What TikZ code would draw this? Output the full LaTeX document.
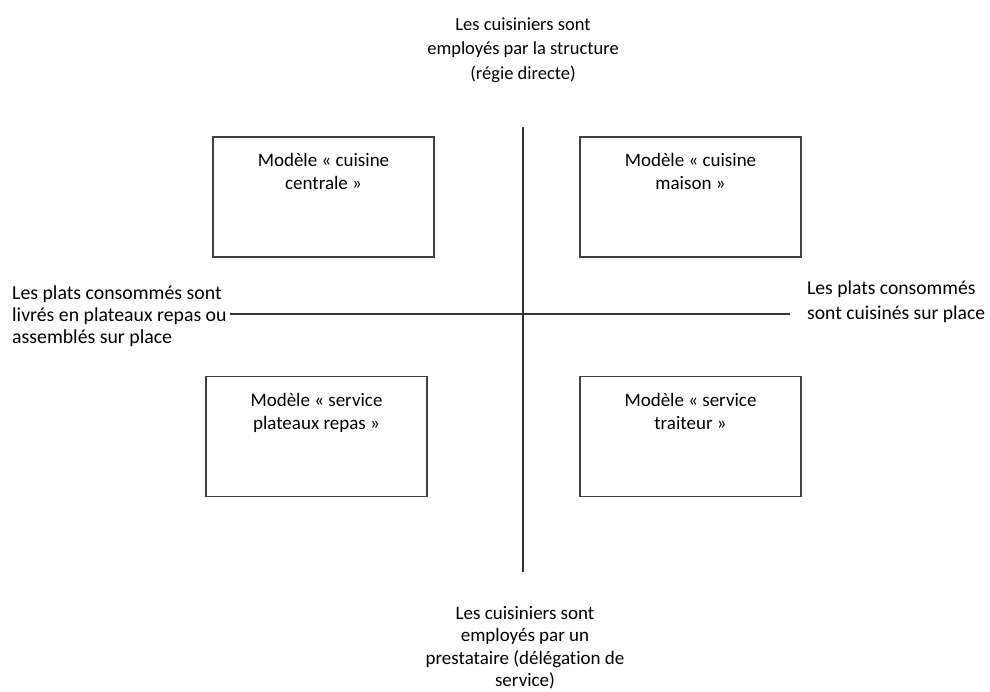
\documentclass[tikz,border=0pt]{standalone}
\usepackage{fontspec}
\setmainfont[Ligatures=NoCommon]{Carlito}
\begin{document}
\begin{tikzpicture}[x=1pt,y=-1pt,
  axis/.style={draw=black!80,line width=1.2pt},
  modelbox/.style={draw=black!75,line width=1.2pt,rectangle,minimum width=221pt,minimum height=120pt,inner sep=0pt},
  lbl/.style={font=\fontsize{19}{23}\selectfont,inner sep=0pt,text=black}
]
\useasboundingbox (0,0) rectangle (990,691);

% axis labels
\node[lbl,align=center,font=\fontsize{18.5}{24.5}\selectfont] (top) at (523,50) {Les cuisiniers sont\\employés par la structure\\(régie directe)};
\node[lbl,align=center,font=\fontsize{19}{22.5}\selectfont] (bottom) at (525,648) {Les cuisiniers sont\\employés par un\\prestataire (délégation de\\service)};
\node[lbl,align=left,anchor=west,font=\fontsize{19.8}{22}\selectfont] (left) at (12,316) {Les plats consommés sont\\livrés en plateaux repas ou\\assemblés sur place};
\node[lbl,align=left,anchor=west,font=\fontsize{19.6}{25}\selectfont] (right) at (807,302) {Les plats consommés\\sont cuisinés sur place};

% axes
\coordinate (vt) at (523,127);
\coordinate (vb) at (523,572);
\coordinate (hl) at (230,314);
\coordinate (hr) at (790,314);
\draw[axis] (vt) -- (vb);
\draw[axis] (hl) -- (hr);

% quadrant boxes
\node[modelbox] (tl) at (323.5,197) {};
\node[modelbox] (tr) at (690.5,197) {};
\node[modelbox] (bl) at (316.5,436.5) {};
\node[modelbox] (br) at (690.5,436.5) {};

\node[lbl,align=center,anchor=north] (tlt) at ([yshift=-17pt]tl.north) {Modèle « cuisine\\centrale »};
\node[lbl,align=center,anchor=north] (trt) at ([yshift=-17pt]tr.north) {Modèle « cuisine\\maison »};
\node[lbl,align=center,anchor=north] (blt) at ([yshift=-17pt]bl.north) {Modèle « service\\plateaux repas »};
\node[lbl,align=center,anchor=north] (brt) at ([yshift=-17pt]br.north) {Modèle « service\\traiteur »};
\end{tikzpicture}
\end{document}
